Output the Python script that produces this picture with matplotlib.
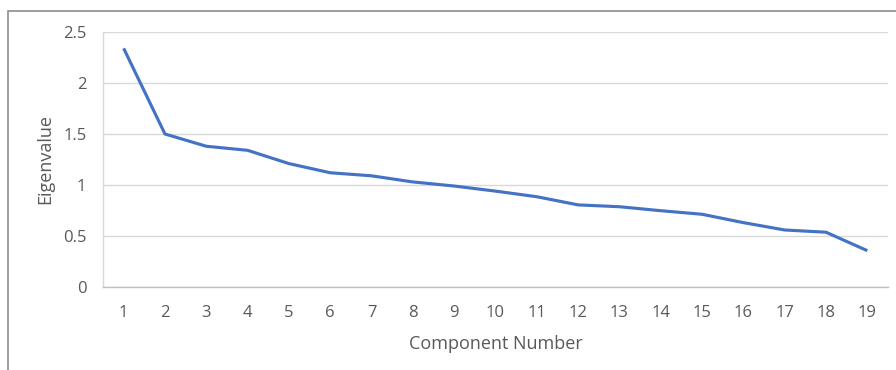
import matplotlib
matplotlib.use("Agg")
import matplotlib.pyplot as plt
from matplotlib.patches import Rectangle

components = list(range(1, 20))
eigenvalues = [2.34, 1.50, 1.38, 1.34, 1.21, 1.12, 1.09, 1.03, 0.99, 0.94,
               0.885, 0.805, 0.787, 0.748, 0.713, 0.631, 0.559, 0.537, 0.356]
y_ticks = [0, 0.5, 1, 1.5, 2, 2.5]
y_tick_labels = ["0", "0.5", "1", "1.5", "2", "2.5"]

plt.rcParams['font.family'] = ['Open Sans', 'DejaVu Sans']
text_color = '#595959'

W, H = 896, 370
fig = plt.figure(figsize=(W / 100, H / 100), dpi=100)
fig.patch.set_facecolor('white')

# outer chart frame (extends past right/bottom edges)
fig.patches.append(Rectangle((8 / W, -0.1), 1.2, 1 - 11 / H + 0.1,
                             transform=fig.transFigure, fill=False,
                             edgecolor='#8c8c8c', linewidth=1.2))

ax = fig.add_axes([103 / W, 1 - 287 / H, (888 - 103) / W, (287 - 32) / H])
ax.plot(components, eigenvalues, color='#4472C4', linewidth=2.25,
        solid_capstyle='butt', zorder=3)

ax.set_xlim(0.5, 19.5)
ax.set_ylim(0, 2.5)
ax.set_yticks(y_ticks)
ax.set_yticklabels(y_tick_labels)
ax.set_xticks(components)
ax.set_xticklabels([str(c) for c in components])

ax.grid(axis='y', color='#d9d9d9', linewidth=1.0)
ax.set_axisbelow(True)
for s in ['top', 'right']:
    ax.spines[s].set_visible(False)
ax.spines['left'].set_color('#d9d9d9')
ax.spines['left'].set_linewidth(1.0)
ax.spines['bottom'].set_color('#bfbfbf')
ax.spines['bottom'].set_linewidth(1.0)

ax.tick_params(axis='both', length=0, labelsize=12, labelcolor=text_color)
ax.tick_params(axis='y', pad=12)
ax.tick_params(axis='x', pad=13)

ax.set_xlabel('Component Number', fontsize=13, color=text_color, labelpad=10)
ax.set_ylabel('Eigenvalue', fontsize=13, color=text_color, labelpad=6)

fig.savefig('out.png', dpi=100)
